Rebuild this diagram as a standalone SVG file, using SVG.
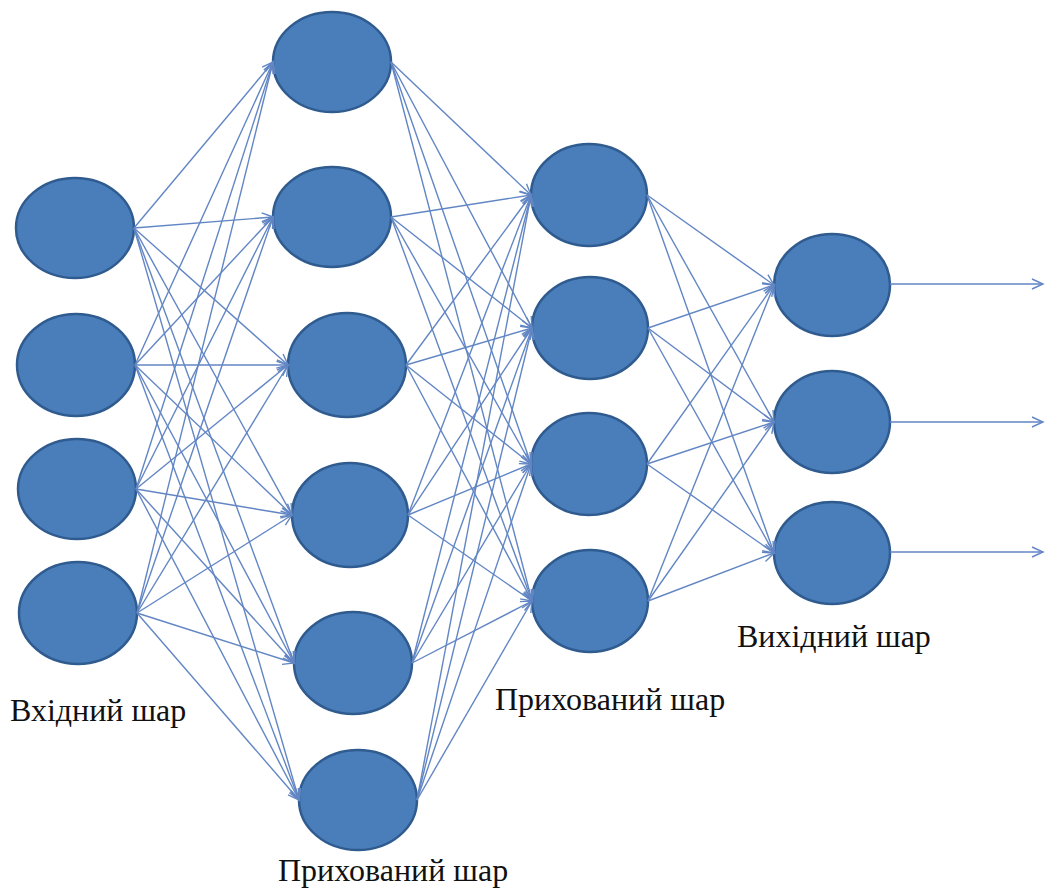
<svg xmlns="http://www.w3.org/2000/svg" width="1046" height="893" viewBox="0 0 1046 893">
<style>
.node{fill:#4a7ebb;stroke:#2f5b8f;stroke-width:2.5}
.edge{stroke:#6286c4;stroke-width:1.4;fill:none;marker-end:url(#arr)}
.lbl{font-family:"Liberation Serif","Times New Roman",serif;font-size:32px;fill:#111}
</style>
<defs>
<marker id="arr" markerUnits="userSpaceOnUse" markerWidth="14" markerHeight="12" refX="12" refY="6" orient="auto">
<path d="M1,1 L12,6 L1,11" fill="none" stroke="#6286c4" stroke-width="1.4"/>
</marker>
</defs>
<rect width="1046" height="893" fill="#fff"/>
<g id="input-layer">
<g id="in1"><ellipse class="node" cx="75" cy="228" rx="59" ry="50"/></g>
<g id="in2"><ellipse class="node" cx="76" cy="365" rx="59" ry="51"/></g>
<g id="in3"><ellipse class="node" cx="77" cy="489" rx="59" ry="50"/></g>
<g id="in4"><ellipse class="node" cx="78" cy="613" rx="59" ry="51"/></g>
</g>
<g id="hidden1">
<g id="h1a"><ellipse class="node" cx="332" cy="62" rx="59" ry="50"/></g>
<g id="h1b"><ellipse class="node" cx="332" cy="217" rx="59" ry="50"/></g>
<g id="h1c"><ellipse class="node" cx="347" cy="365" rx="59" ry="52"/></g>
<g id="h1d"><ellipse class="node" cx="350" cy="515" rx="58" ry="52"/></g>
<g id="h1e"><ellipse class="node" cx="353" cy="663" rx="59" ry="51"/></g>
<g id="h1f"><ellipse class="node" cx="358" cy="800" rx="59" ry="50"/></g>
</g>
<g id="hidden2">
<g id="h2a"><ellipse class="node" cx="589" cy="195" rx="58" ry="51"/></g>
<g id="h2b"><ellipse class="node" cx="590" cy="328" rx="58" ry="51"/></g>
<g id="h2c"><ellipse class="node" cx="589" cy="464" rx="58" ry="51"/></g>
<g id="h2d"><ellipse class="node" cx="590" cy="601" rx="58" ry="51"/></g>
</g>
<g id="output-layer">
<g id="o1"><ellipse class="node" cx="832" cy="285" rx="58" ry="51"/></g>
<g id="o2"><ellipse class="node" cx="832" cy="422" rx="58" ry="51"/></g>
<g id="o3"><ellipse class="node" cx="832" cy="553" rx="58" ry="51"/></g>
</g>
<g id="connectors">
<line class="edge" x1="134" y1="228" x2="273" y2="62"/>
<line class="edge" x1="134" y1="228" x2="273" y2="217"/>
<line class="edge" x1="134" y1="228" x2="288" y2="365"/>
<line class="edge" x1="134" y1="228" x2="292" y2="515"/>
<line class="edge" x1="134" y1="228" x2="294" y2="663"/>
<line class="edge" x1="134" y1="228" x2="299" y2="800"/>
<line class="edge" x1="135" y1="365" x2="273" y2="62"/>
<line class="edge" x1="135" y1="365" x2="273" y2="217"/>
<line class="edge" x1="135" y1="365" x2="288" y2="365"/>
<line class="edge" x1="135" y1="365" x2="292" y2="515"/>
<line class="edge" x1="135" y1="365" x2="294" y2="663"/>
<line class="edge" x1="135" y1="365" x2="299" y2="800"/>
<line class="edge" x1="136" y1="489" x2="273" y2="62"/>
<line class="edge" x1="136" y1="489" x2="273" y2="217"/>
<line class="edge" x1="136" y1="489" x2="288" y2="365"/>
<line class="edge" x1="136" y1="489" x2="292" y2="515"/>
<line class="edge" x1="136" y1="489" x2="294" y2="663"/>
<line class="edge" x1="136" y1="489" x2="299" y2="800"/>
<line class="edge" x1="137" y1="613" x2="273" y2="62"/>
<line class="edge" x1="137" y1="613" x2="273" y2="217"/>
<line class="edge" x1="137" y1="613" x2="288" y2="365"/>
<line class="edge" x1="137" y1="613" x2="292" y2="515"/>
<line class="edge" x1="137" y1="613" x2="294" y2="663"/>
<line class="edge" x1="137" y1="613" x2="299" y2="800"/>
<line class="edge" x1="391" y1="62" x2="531" y2="195"/>
<line class="edge" x1="391" y1="62" x2="532" y2="328"/>
<line class="edge" x1="391" y1="62" x2="531" y2="464"/>
<line class="edge" x1="391" y1="62" x2="532" y2="601"/>
<line class="edge" x1="391" y1="217" x2="531" y2="195"/>
<line class="edge" x1="391" y1="217" x2="532" y2="328"/>
<line class="edge" x1="391" y1="217" x2="531" y2="464"/>
<line class="edge" x1="391" y1="217" x2="532" y2="601"/>
<line class="edge" x1="406" y1="365" x2="531" y2="195"/>
<line class="edge" x1="406" y1="365" x2="532" y2="328"/>
<line class="edge" x1="406" y1="365" x2="531" y2="464"/>
<line class="edge" x1="406" y1="365" x2="532" y2="601"/>
<line class="edge" x1="408" y1="515" x2="531" y2="195"/>
<line class="edge" x1="408" y1="515" x2="532" y2="328"/>
<line class="edge" x1="408" y1="515" x2="531" y2="464"/>
<line class="edge" x1="408" y1="515" x2="532" y2="601"/>
<line class="edge" x1="412" y1="663" x2="531" y2="195"/>
<line class="edge" x1="412" y1="663" x2="532" y2="328"/>
<line class="edge" x1="412" y1="663" x2="531" y2="464"/>
<line class="edge" x1="412" y1="663" x2="532" y2="601"/>
<line class="edge" x1="417" y1="800" x2="531" y2="195"/>
<line class="edge" x1="417" y1="800" x2="532" y2="328"/>
<line class="edge" x1="417" y1="800" x2="531" y2="464"/>
<line class="edge" x1="417" y1="800" x2="532" y2="601"/>
<line class="edge" x1="647" y1="195" x2="774" y2="285"/>
<line class="edge" x1="647" y1="195" x2="774" y2="422"/>
<line class="edge" x1="647" y1="195" x2="774" y2="553"/>
<line class="edge" x1="648" y1="328" x2="774" y2="285"/>
<line class="edge" x1="648" y1="328" x2="774" y2="422"/>
<line class="edge" x1="648" y1="328" x2="774" y2="553"/>
<line class="edge" x1="647" y1="464" x2="774" y2="285"/>
<line class="edge" x1="647" y1="464" x2="774" y2="422"/>
<line class="edge" x1="647" y1="464" x2="774" y2="553"/>
<line class="edge" x1="648" y1="601" x2="774" y2="285"/>
<line class="edge" x1="648" y1="601" x2="774" y2="422"/>
<line class="edge" x1="648" y1="601" x2="774" y2="553"/>
<line class="edge" x1="890" y1="284" x2="1043" y2="284"/>
<line class="edge" x1="890" y1="422" x2="1043" y2="422"/>
<line class="edge" x1="890" y1="552" x2="1043" y2="552"/>
</g>
<g id="labels">
<text class="lbl" x="10" y="721">Вхідний шар</text>
<text class="lbl" x="495" y="710">Прихований шар</text>
<text class="lbl" x="737" y="647">Вихідний шар</text>
<text class="lbl" x="278" y="881">Прихований шар</text>
</g>
</svg>
